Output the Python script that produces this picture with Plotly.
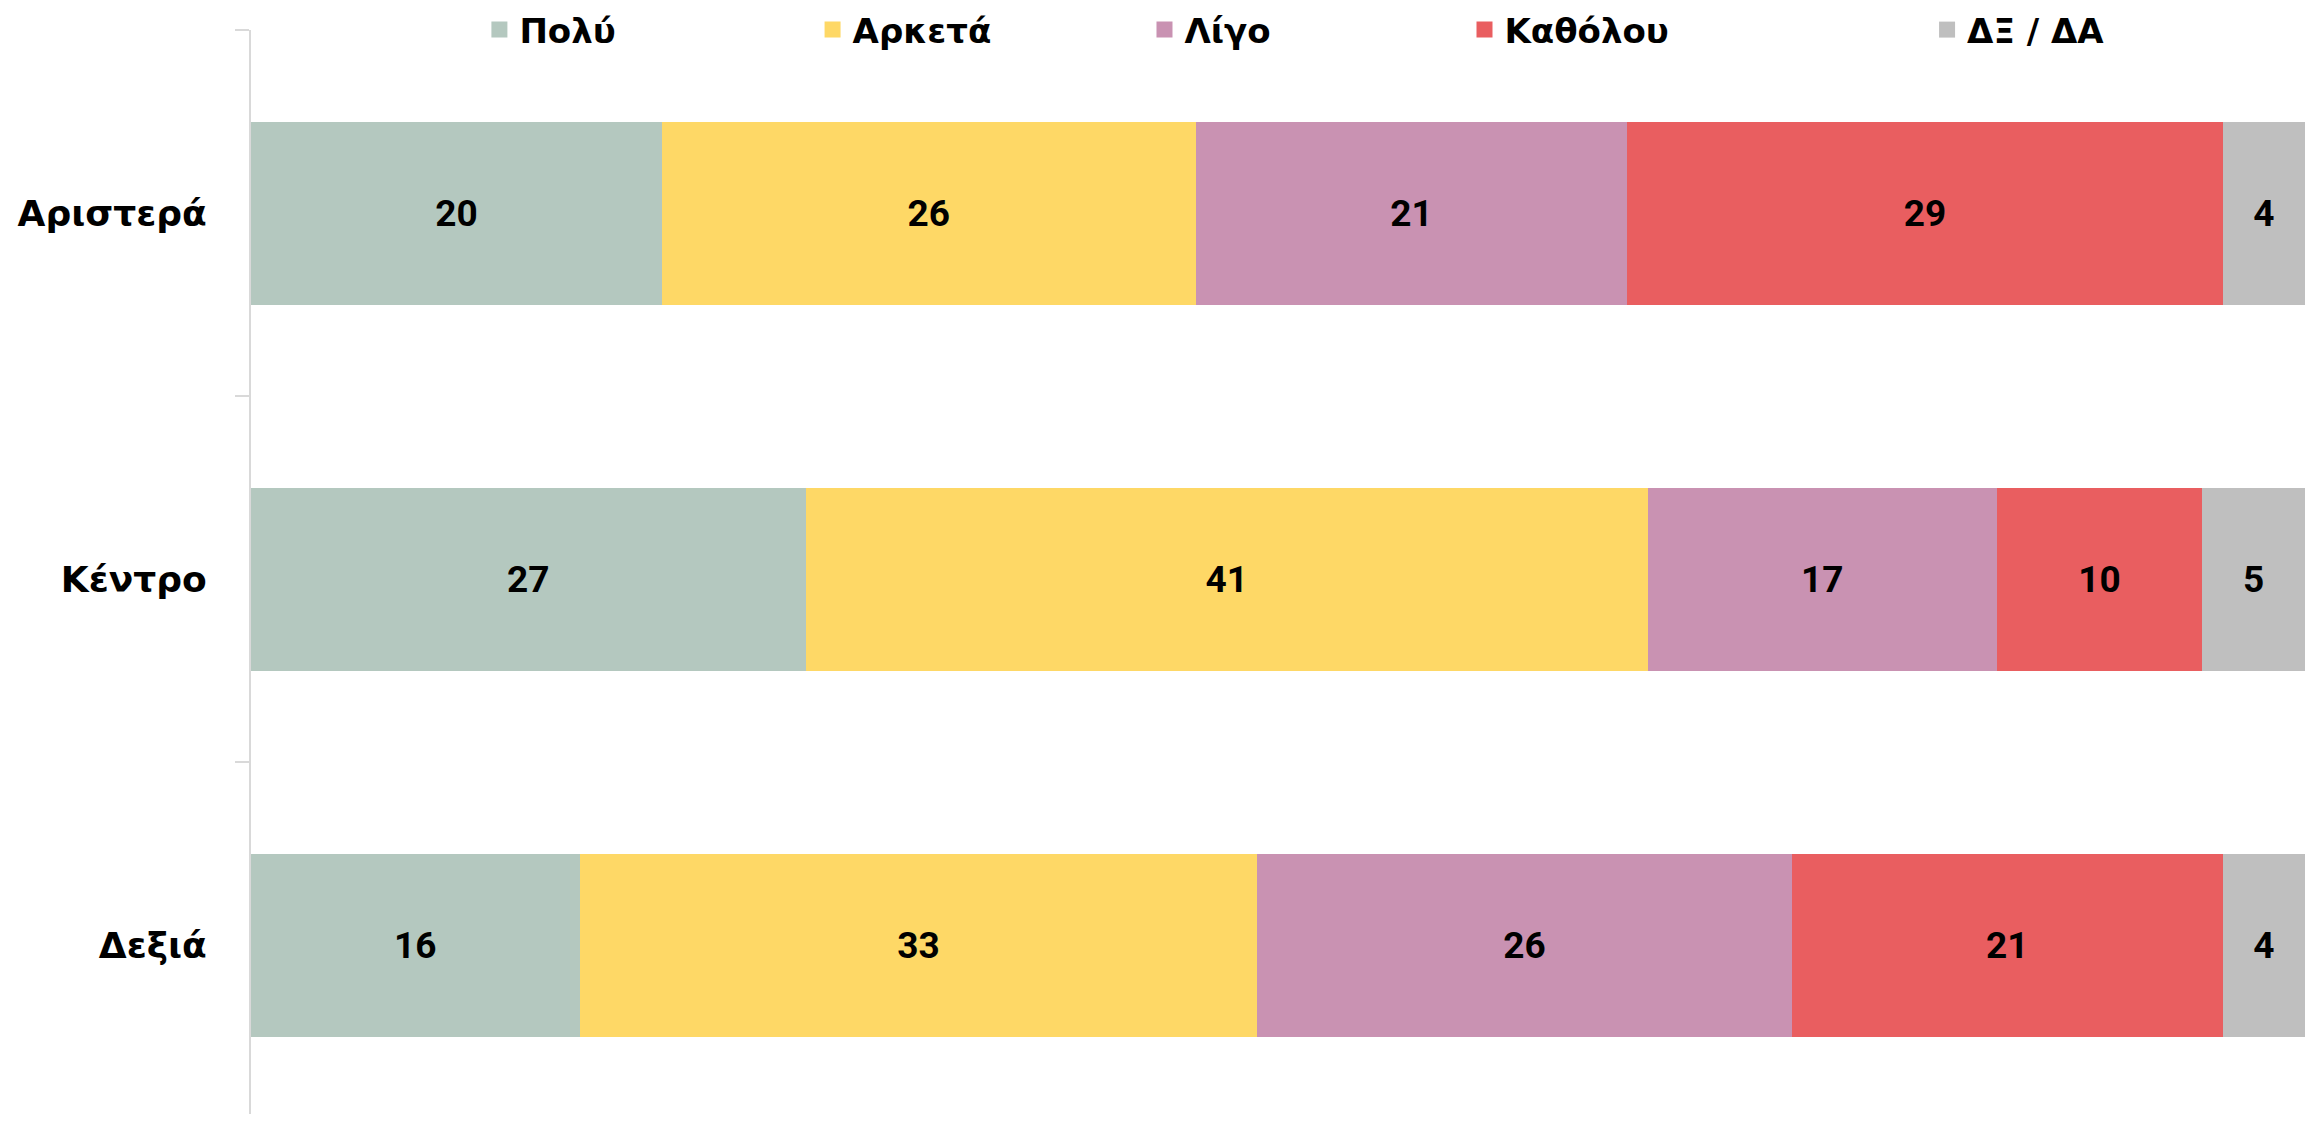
"""
Horizontal 100% stacked bars: answers by political self-placement
"""

import plotly.graph_objects as go

# categories (top to bottom)
groups = ["Αριστερά", "Κέντρο", "Δεξιά"]

# answer series, values in %
answers = ["Πολύ", "Αρκετά", "Λίγο", "Καθόλου", "ΔΞ / ΔΑ"]
poly = [20, 27, 16]
arketa = [26, 41, 33]
ligo = [21, 17, 26]
katholou = [29, 10, 21]
dx_da = [4, 5, 4]

colors = ["#B4C8BF", "#FED866", "#C992B2", "#E95E60", "#BFBFBF"]

# where each legend entry sits along the top (paper x)
legend_x = [0.1112, 0.2734, 0.4350, 0.5908, 0.8160]

fig = go.Figure()

series = [poly, arketa, ligo, katholou, dx_da]
for i, (name, vals) in enumerate(zip(answers, series)):
    leg = "legend" if i == 0 else f"legend{i + 1}"
    fig.add_trace(go.Bar(
        y=groups, x=vals,
        name=name,
        orientation='h',
        marker=dict(color=colors[i], line=dict(width=0)),
        text=vals,
        textposition='inside',
        insidetextanchor='middle',
        textangle=0,
        textfont=dict(family="Roboto", size=37, color="black", weight="bold"),
        legendgroup=name,
        showlegend=False,
        hovertemplate='%{y}: %{x}%<extra>' + name + '</extra>'
    ))
    # legend entry with a bigger square swatch
    fig.add_trace(go.Scatter(
        x=[None], y=[None],
        mode='markers',
        name=name,
        marker=dict(symbol='square', size=22, color=colors[i]),
        legendgroup=name,
        legend=leg,
        hoverinfo='skip'
    ))

legend_style = dict(
    orientation='h',
    y=1.0, yanchor='middle',
    xanchor='left',
    bgcolor='rgba(0,0,0,0)',
    borderwidth=0,
    font=dict(family="DejaVu Sans", size=34, color="black", weight="bold"),
)
legends = {}
for i, lx in enumerate(legend_x):
    key = "legend" if i == 0 else f"legend{i + 1}"
    legends[key] = dict(legend_style, x=lx)

# page body has an 8px margin, so the figure is sized to fit inside it
fig.update_layout(
    width=2297, height=1106,
    margin=dict(l=243, r=0, t=22, b=0, autoexpand=False),
    plot_bgcolor='white',
    paper_bgcolor='white',
    barmode='stack',
    bargap=0.5,
    showlegend=True,
    xaxis=dict(
        range=[0, 100],
        visible=False,
        showgrid=False,
        zeroline=False,
        automargin=False,
    ),
    yaxis=dict(
        type='category',
        categoryorder='array',
        categoryarray=groups,
        range=[2.4617, -0.5],
        automargin=False,
        showgrid=False,
        zeroline=False,
        showline=True,
        linecolor='#D9D9D9',
        linewidth=2,
        ticks='outside',
        tickson='boundaries',
        ticklen=14,
        tickwidth=2,
        tickcolor='#D9D9D9',
        ticklabelstandoff=35,
        tickfont=dict(family="DejaVu Sans", size=36, color="black", weight="bold"),
    ),
    **legends
)

fig.write_html("out.html")
